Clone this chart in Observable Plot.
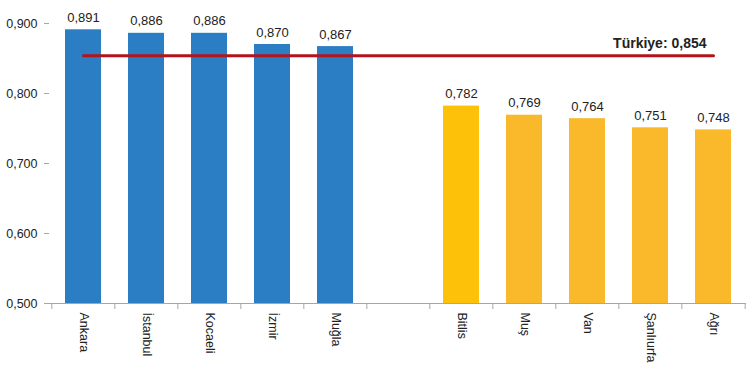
<!DOCTYPE html>
<html><head><meta charset="utf-8">
<script src="https://cdn.jsdelivr.net/npm/d3@7"></script>
<script src="https://cdn.jsdelivr.net/npm/@observablehq/plot@0.6"></script>
<style>body{margin:0;background:#fff;font-family:"Liberation Sans",Arial,sans-serif}</style>
</head><body><div id="chart"></div>
<script>
const provinces = ["Ankara","İstanbul","Kocaeli","İzmir","Muğla","Bitlis","Muş","Van","Şanlıurfa","Ağrı"];
const values = [0.891,0.886,0.886,0.870,0.867,0.782,0.769,0.764,0.751,0.748];
const groups = ["En yüksek","En yüksek","En yüksek","En yüksek","En yüksek","En düşük","En düşük","En düşük","En düşük","En düşük"];
const turkiyeValue = 0.854;
const turkiyeLabel = "Türkiye: 0,854";
const yTicks = [0.5,0.6,0.7,0.8,0.9];

const data = provinces.map((p,i)=>({province:p, value:values[i], group:groups[i]}));
const gapKey = " ";
const xDomain = [...provinces.slice(0,5), gapKey, ...provinces.slice(5)];
const fmt = d => d.toFixed(3).replace(".", ",");
const colorOf = d => d.group === "En yüksek" ? "#2b7dc4" : (d.province === "Bitlis" ? "#fec10a" : "#f9b92a");

const W = 750, H = 367, mL = 49, mR = 4, mT = 9, mB = 64;
const step = (W - mL - mR) / xDomain.length;

const chart = Plot.plot({
  width: W, height: H,
  marginLeft: mL, marginRight: mR, marginTop: mT, marginBottom: mB,
  style: {fontFamily: '"Liberation Sans", Arial, sans-serif', fontSize: "12.5px", color: "#222", background: "#fff"},
  x: {domain: xDomain, paddingInner: 0.43, paddingOuter: 0.215, label: null},
  y: {domain: [0.5, 0.92], label: null},
  marks: [
    Plot.barY(data, {x: "province", y1: 0.5, y2: "value", fill: colorOf}),
    Plot.ruleY([0.5], {stroke: "#a6a6a6", strokeWidth: 1}),
    Plot.axisY({ticks: yTicks, tickFormat: fmt, tickSize: 5, tickPadding: 7, stroke: "#a6a6a6", fontSize: 12.5, fill: "#222"}),
    Plot.ruleX([0], {x: () => null, frameAnchor: "left", stroke: "#a6a6a6"}),
    Plot.axisX({tickSize: 0, tickPadding: 9, tickRotate: 90, fontSize: 12.5, fill: "#222", tickFormat: d => d === gapKey ? "" : d}),
    Plot.ruleX(xDomain, {x: d => d, y1: 0.5, y2: 0.5, insetBottom: -6, dx: -step/2, stroke: "#a6a6a6"}),
    Plot.ruleX([xDomain[xDomain.length-1]], {x: d => d, y1: 0.5, y2: 0.5, insetBottom: -6, dx: step/2, stroke: "#a6a6a6"}),
    Plot.text(data, {x: "province", y: "value", text: d => fmt(d.value), lineAnchor: "bottom", dy: -8, fontSize: 13, fill: "#222"}),
    Plot.line([provinces[0], provinces[provinces.length-1]], {x: d => d, y: () => turkiyeValue, stroke: "#b3141c", strokeWidth: 3}),
    Plot.text([turkiyeLabel], {x: () => provinces[provinces.length-1], y: () => turkiyeValue, text: d => d, textAnchor: "end", lineAnchor: "bottom", dx: -7, dy: -8, fontWeight: "bold", fontSize: 14, fill: "#222"})
  ]
});
document.getElementById("chart").appendChild(chart);
</script>
</body></html>
